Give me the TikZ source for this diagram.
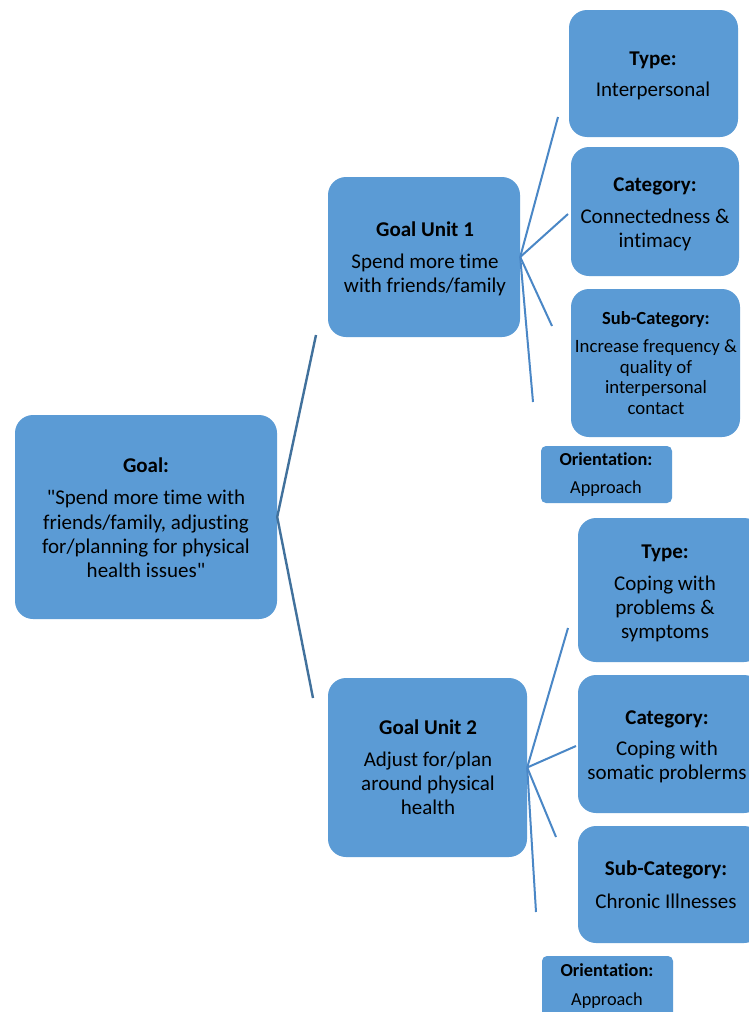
\documentclass[tikz,border=0pt]{standalone}
\usepackage{fontspec}
\setmainfont{Carlito}
\newfontfamily\calfont{Carlito}[Ligatures={NoCommon,NoContextual}]
\definecolor{boxblue}{HTML}{5B9BD5}
\definecolor{lineA}{HTML}{41719C}
\definecolor{lineB}{HTML}{4A87C6}
\tikzset{
  box/.style={fill=boxblue, draw=none, rounded corners=18pt, inner sep=0pt},
  smallbox/.style={fill=boxblue, draw=none, rounded corners=5pt, inner sep=0pt},
  big/.style={anchor=base, inner sep=0pt, yshift=-7.5pt, font=\calfont\fontsize{21}{24}\selectfont},
  bigb/.style={big, font=\calfont\fontsize{21}{24}\selectfont\bfseries},
  mid/.style={anchor=base, inner sep=0pt, yshift=-6pt, font=\calfont\fontsize{18.8}{20}\selectfont},
  midb/.style={mid, font=\calfont\fontsize{18.5}{20}\selectfont\bfseries},
  sml/.style={anchor=base, inner sep=0pt, yshift=-4.5pt, font=\calfont\fontsize{18.3}{20}\selectfont},
  smlb/.style={sml, font=\calfont\fontsize{18.3}{20}\selectfont\bfseries},
  gline/.style={draw=lineA, line width=2.4pt},
  sline/.style={draw=lineB, line width=2pt},
}
\begin{document}
\begin{tikzpicture}[x=1pt,y=-1pt]
\clip (0,0) rectangle (749,1012);
\fill[white] (0,0) rectangle (749,1012);
% boxes
\node[box, minimum width=262pt, minimum height=204pt] (goal) at (146,517) {};
\node[box, minimum width=192pt, minimum height=160pt] (gu1) at (424,257) {};
\node[box, minimum width=199pt, minimum height=179pt] (gu2) at (427.5,767.5) {};
\node[box, minimum width=169pt, minimum height=127pt] (ty1) at (653.5,73.5) {};
\node[box, minimum width=168pt, minimum height=129pt] (ca1) at (655,211.5) {};
\node[box, minimum width=169pt, minimum height=148pt] (sc1) at (655.5,363) {};
\node[smallbox, minimum width=131pt, minimum height=57pt] (or1) at (606.5,474.5) {};
\node[box, minimum width=184pt, minimum height=144pt] (ty2) at (670,590) {};
\node[box, minimum width=184pt, minimum height=138pt] (ca2) at (670,744) {};
\node[box, minimum width=184pt, minimum height=117pt] (sc2) at (670,884.5) {};
\node[smallbox, minimum width=131pt, minimum height=70pt] (or2) at (607.5,991) {};
% connector ends
\coordinate (g1) at (316,335);
\coordinate (g2) at (313,698);
\coordinate (a1) at (558,117);
\coordinate (a2) at (568,214);
\coordinate (a3) at (552,326);
\coordinate (a4) at (533,402);
\coordinate (b1) at (568,628);
\coordinate (b2) at (576,746);
\coordinate (b3) at (556,837);
\coordinate (b4) at (536,912);
\draw[gline] (g1) -- (goal.east) -- (g2);
\foreach \e in {a1,a2,a3,a4} \draw[sline] (gu1.east) -- (\e);
\foreach \e in {b1,b2,b3,b4} \draw[sline] (gu2.east) -- (\e);
% texts
\node[bigb] (t1) at (146,465) {Goal:};
\node[big] (t2) at (146,497) {\symbol{34}Spend more time with};
\node[big] (t3) at (146,522) {friends/family, adjusting};
\node[big] (t4) at (146,546) {for/planning for physical};
\node[big] (t5) at (146,570) {health issues\symbol{34}};
\node[bigb] (t6) at (425,229) {Goal Unit 1};
\node[big] (t7) at (425,261) {Spend more time};
\node[big] (t8) at (425,285) {with friends/family};
\node[bigb] (t9) at (428,727) {Goal Unit 2};
\node[big] (t10) at (428,759) {Adjust for/plan};
\node[big] (t11) at (428,783) {around physical};
\node[big] (t12) at (428,807) {health};
\node[bigb] (t13) at (653,58) {Type:};
\node[big] (t14) at (653,89) {Interpersonal};
\node[bigb] (t15) at (655,184) {Category:};
\node[big] (t16) at (655,216) {Connectedness \&};
\node[big] (t17) at (655,240) {intimacy};
\node[midb] (t18) at (656,318) {Sub-Category:};
\node[mid] (t19) at (656,346) {Increase frequency \&};
\node[mid] (t20) at (656,367) {quality of};
\node[mid] (t21) at (656,387) {interpersonal};
\node[mid] (t22) at (656,408) {contact};
\node[smlb] (t23) at (606,461) {Orientation:};
\node[sml] (t24) at (606,489) {Approach};
\node[bigb] (t25) at (665,551) {Type:};
\node[big] (t26) at (665,583) {Coping with};
\node[big] (t27) at (665,607) {problems \&};
\node[big] (t28) at (665,631) {symptoms};
\node[bigb] (t29) at (667,717) {Category:};
\node[big] (t30) at (667,748) {Coping with};
\node[big] (t31) at (667,772) {somatic problerms};
\node[bigb] (t32) at (666,868) {Sub-Category:};
\node[big] (t33) at (666,901) {Chronic Illnesses};
\node[smlb] (t34) at (607,972) {Orientation:};
\node[sml] (t35) at (607,1001) {Approach};
\end{tikzpicture}
\end{document}
